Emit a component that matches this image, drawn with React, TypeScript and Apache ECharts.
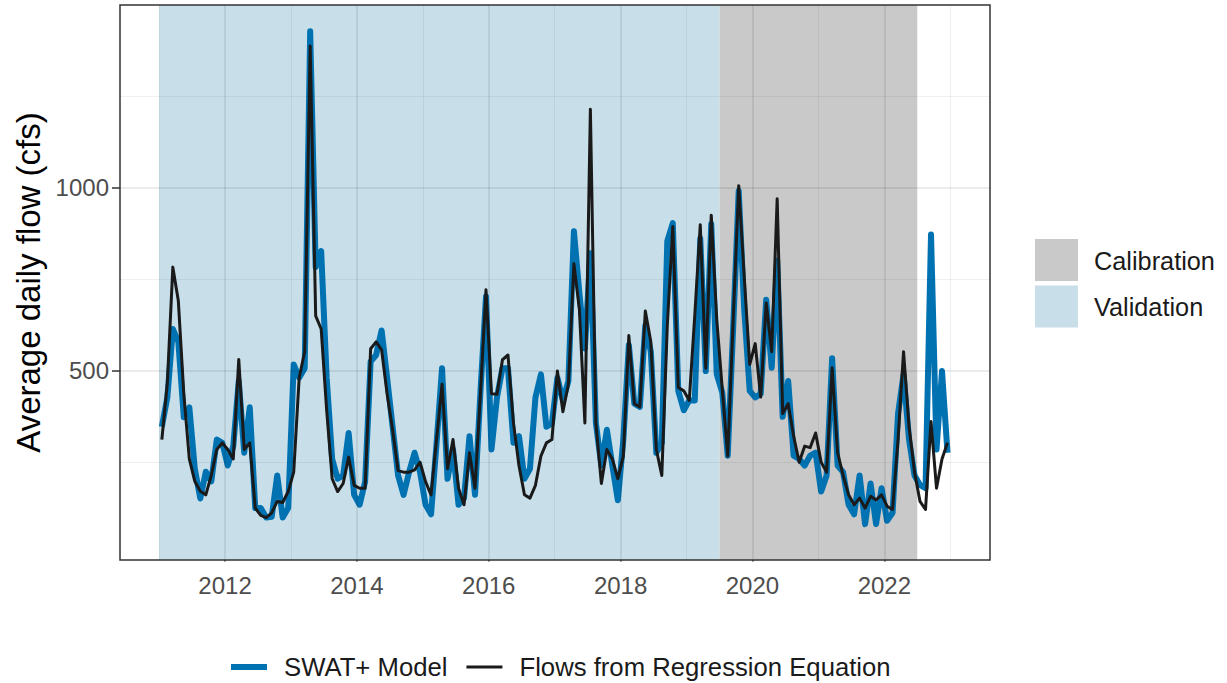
import React, { useEffect, useRef } from "react";
import * as echarts from "echarts";

// Monthly values, January 2011 to December 2022 (one row per year)
const startYear = 2011;
const swatModel = [
  346, 426, 613, 578, 372, 399, 231, 150, 223, 197, 311, 302,
  240, 293, 471, 275, 399, 124, 124, 98, 100, 213, 98, 124,
  516, 480, 506, 1426, 782, 826, 480, 258, 204, 213, 329, 160,
  133, 196, 524, 542, 609, 480, 346, 213, 160, 222, 275, 222,
  133, 107, 300, 506, 204, 284, 133, 151, 320, 160, 444, 702,
  284, 426, 506, 506, 302, 320, 204, 231, 426, 489, 346, 355,
  480, 418, 471, 880, 711, 560, 820, 356, 240, 338, 240, 145,
  311, 569, 409, 400, 622, 551, 275, 302, 853, 902, 444, 391,
  418, 418, 860, 498, 900, 490, 440, 267, 620, 990, 667, 444,
  426, 436, 693, 507, 800, 373, 471, 267, 258, 240, 267, 275,
  169, 213, 533, 240, 222, 133, 107, 213, 80, 191, 80, 178,
  89, 111, 382, 489, 311, 213, 187, 178, 871, 284, 498, 275,
];
const regressionFlows = [
  311, 465, 782, 690, 436, 258, 197, 170, 160, 213, 284, 302,
  284, 258, 530, 284, 302, 124, 104, 98, 111, 142, 139, 169,
  222, 480, 551, 1386, 649, 613, 391, 204, 169, 191, 263, 186,
  178, 178, 559, 578, 556, 436, 338, 226, 222, 222, 228, 249,
  196, 160, 311, 462, 231, 311, 178, 133, 275, 178, 440, 720,
  436, 435, 529, 542, 356, 240, 160, 151, 186, 266, 302, 311,
  498, 387, 462, 791, 667, 356, 1213, 356, 191, 284, 258, 204,
  266, 595, 409, 400, 662, 578, 284, 213, 622, 893, 453, 444,
  418, 650, 898, 506, 924, 640, 450, 266, 640, 1004, 756, 516,
  573, 427, 684, 551, 969, 382, 409, 320, 249, 293, 289, 329,
  249, 222, 507, 275, 213, 160, 133, 151, 124, 156, 146, 160,
  129, 120, 311, 551, 346, 222, 142, 120, 360, 178, 258, 302,
];

const xTickYears = [2012, 2014, 2016, 2018, 2020, 2022];
const xMinorYears = [2011, 2013, 2015, 2017, 2019, 2021, 2023];
const yTickValues = [500, 1000];
const yMinorValues = [250, 750, 1250];

const periodNames = ["Validation", "Calibration"];
const periodStart = [2011.0, 2019.5];
const periodEnd = [2019.5, 2022.5];
const periodColors = ["#c8dfea", "#c9c9c9"];

const seriesNames = ["SWAT+ Model", "Flows from Regression Equation"];
const seriesColors = ["#0072B2", "#1a1a1a"];

const FONT = "'Liberation Sans', Arial, Helvetica, sans-serif";

// legend keys: horizontal bars of given thickness inside a 36x14 box
const ICON_SWAT = "path://M0,0L36,0L36,0.01ZM0,4L36,4L36,10L0,10ZM0,14L36,14L36,13.99Z";
const ICON_REG = "path://M0,0L36,0L36,0.01ZM0,5.5L36,5.5L36,8.5L0,8.5ZM0,14L36,14L36,13.99Z";

export default function App() {
  const ref = useRef<HTMLDivElement>(null);

  useEffect(() => {
    if (!ref.current) return;
    const chart = echarts.init(ref.current, undefined, { renderer: "svg" });

    const toPoints = (vals: number[]) =>
      vals.map((v, i) => [startYear + (i + 0.5) / 12, v]);

    const gridMajor = { color: "rgba(0,0,0,0.08)", width: 2, type: "solid" };
    const gridMinor = { color: "rgba(0,0,0,0.06)", width: 1, type: "solid" };

    const markLineData: any[] = [
      ...xTickYears.map((v) => ({ xAxis: v, lineStyle: gridMajor })),
      ...xMinorYears.map((v) => ({ xAxis: v, lineStyle: gridMinor })),
      ...yTickValues.map((v) => ({ yAxis: v, lineStyle: gridMajor })),
      ...yMinorValues.map((v) => ({ yAxis: v, lineStyle: gridMinor })),
    ];

    const option: any = {
      animation: false,
      textStyle: { fontFamily: FONT },
      grid: { left: 120, top: 5, width: 870, height: 555, containLabel: false },
      xAxis: {
        type: "value",
        min: 2010.407,
        max: 2023.603,
        axisLine: { show: false },
        splitLine: { show: false },
        axisTick: {
          show: true,
          customValues: xTickYears,
          length: 8,
          lineStyle: { color: "#333333", width: 1.5 },
        },
        axisLabel: {
          customValues: xTickYears,
          formatter: (v: number) => String(Math.round(v)),
          fontSize: 24,
          color: "#4d4d4d",
          margin: 13,
          fontFamily: FONT,
        },
      },
      yAxis: {
        type: "value",
        min: -18,
        max: 1498,
        name: "Average daily flow (cfs)",
        nameLocation: "middle",
        nameGap: 74,
        nameTextStyle: { fontSize: 33, color: "#000000", fontFamily: FONT },
        axisLine: { show: false },
        splitLine: { show: false },
        axisTick: {
          show: true,
          customValues: yTickValues,
          length: 8,
          lineStyle: { color: "#333333", width: 1.5 },
        },
        axisLabel: {
          customValues: yTickValues,
          formatter: (v: number) => String(Math.round(v)),
          fontSize: 24,
          color: "#4d4d4d",
          margin: 11,
          fontFamily: FONT,
        },
      },
      legend: {
        data: [
          { name: seriesNames[0], icon: ICON_SWAT },
          { name: seriesNames[1], icon: ICON_REG },
        ],
        left: 226,
        top: 649,
        orient: "horizontal",
        itemWidth: 36,
        itemHeight: 14,
        itemGap: 19,
        textStyle: {
          fontSize: 25.7,
          color: "#1a1a1a",
          fontFamily: FONT,
          padding: [0, 0, 0, 12],
        },
      },
      graphic: [
        {
          type: "rect",
          shape: { x: 120, y: 5, width: 870, height: 555 },
          style: { fill: "none", stroke: "#333333", lineWidth: 1.5 },
          z: 100,
          silent: true,
        },
        {
          type: "rect",
          shape: { x: 1035, y: 239, width: 43, height: 42 },
          style: { fill: periodColors[1] },
        },
        {
          type: "rect",
          shape: { x: 1035, y: 285.5, width: 43, height: 42 },
          style: { fill: periodColors[0] },
        },
        {
          type: "text",
          style: {
            text: periodNames[1],
            x: 1094,
            y: 261,
            fontSize: 25.3,
            fontFamily: FONT,
            fill: "#1a1a1a",
            verticalAlign: "middle",
          },
        },
        {
          type: "text",
          style: {
            text: periodNames[0],
            x: 1094,
            y: 307,
            fontSize: 25.3,
            fontFamily: FONT,
            fill: "#1a1a1a",
            verticalAlign: "middle",
          },
        },
      ],
      series: [
        {
          type: "line",
          name: "periods",
          data: [],
          z: 1,
          silent: true,
          markArea: {
            silent: true,
            data: periodNames.map((_, i) => [
              {
                xAxis: periodStart[i],
                itemStyle: { color: periodColors[i], opacity: 1 },
              },
              { xAxis: periodEnd[i] },
            ]),
          },
        },
        {
          type: "line",
          name: "grid",
          data: [],
          z: 2,
          silent: true,
          markLine: {
            silent: true,
            symbol: "none",
            label: { show: false },
            animation: false,
            data: markLineData,
          },
        },
        {
          type: "line",
          name: seriesNames[0],
          data: toPoints(swatModel),
          showSymbol: false,
          symbol: "none",
          z: 3,
          color: seriesColors[0],
          itemStyle: { color: seriesColors[0] },
          lineStyle: { color: seriesColors[0], width: 6, join: "round" },
        },
        {
          type: "line",
          name: seriesNames[1],
          data: toPoints(regressionFlows),
          showSymbol: false,
          symbol: "none",
          z: 4,
          color: seriesColors[1],
          itemStyle: { color: seriesColors[1] },
          lineStyle: { color: seriesColors[1], width: 3, join: "round" },
        },
      ],
    };

    chart.setOption(option);
    return () => chart.dispose();
  }, []);

  return (
    <div
      ref={ref}
      style={{ position: "fixed", left: 0, top: 0, width: 1227, height: 683, background: "#ffffff" }}
    />
  );
}
